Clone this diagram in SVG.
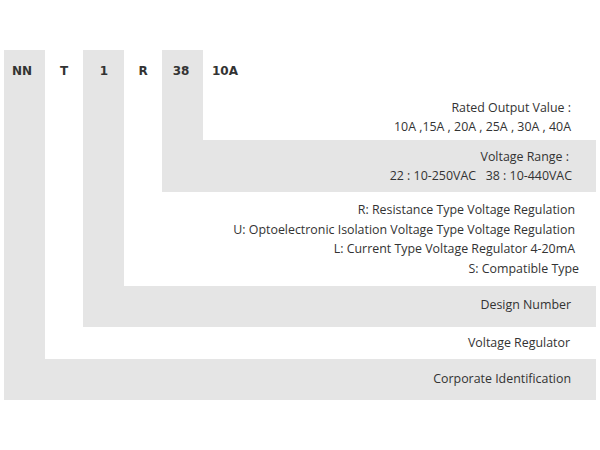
<svg xmlns="http://www.w3.org/2000/svg" width="600" height="450" viewBox="0 0 600 450">
<style>
.band{fill:#e5e5e5}
.code{font-family:"DejaVu Sans",sans-serif;font-weight:bold;font-size:12px;fill:#333;text-anchor:middle}
.lbl{font-family:"Open Sans","Noto Sans",sans-serif;font-size:12.4px;fill:#333;text-anchor:end}
</style>
<rect width="600" height="450" fill="#fff"/>
<g id="corporate">
<path class="band" d="M4 50H45V359H596V400H4Z"/>
<text class="code" x="22" y="75">NN</text>
<text class="lbl" x="571" y="383">Corporate Identification</text>
</g>
<g id="voltage-regulator">
<text class="code" x="64" y="75">T</text>
<text class="lbl" x="570" y="347">Voltage Regulator</text>
</g>
<g id="design-number">
<path class="band" d="M83 50H124V286H596V327H83Z"/>
<text class="code" x="104" y="75">1</text>
<text class="lbl" x="571" y="309">Design Number</text>
</g>
<g id="regulation-type">
<text class="code" x="143" y="75">R</text>
<text class="lbl" x="575" y="214">R: Resistance Type Voltage Regulation</text>
<text class="lbl" x="575" y="234">U: Optoelectronic Isolation Voltage Type Voltage Regulation</text>
<text class="lbl" x="575" y="253">L: Current Type Voltage Regulator 4-20mA</text>
<text class="lbl" x="579" y="273">S: Compatible Type</text>
</g>
<g id="voltage-range">
<path class="band" d="M162 50H203V140H596V192H162Z"/>
<text class="code" x="181" y="75">38</text>
<text class="lbl" x="569" y="161">Voltage Range :</text>
<text class="lbl" x="572" y="180" xml:space="preserve">22 : 10-250VAC   38 : 10-440VAC</text>
</g>
<g id="rated-output">
<text class="code" x="225" y="75">10A</text>
<text class="lbl" x="571" y="112">Rated Output Value :</text>
<text class="lbl" x="571" y="131">10A ,15A , 20A , 25A , 30A , 40A</text>
</g>
<g id="connectors"></g>
</svg>
